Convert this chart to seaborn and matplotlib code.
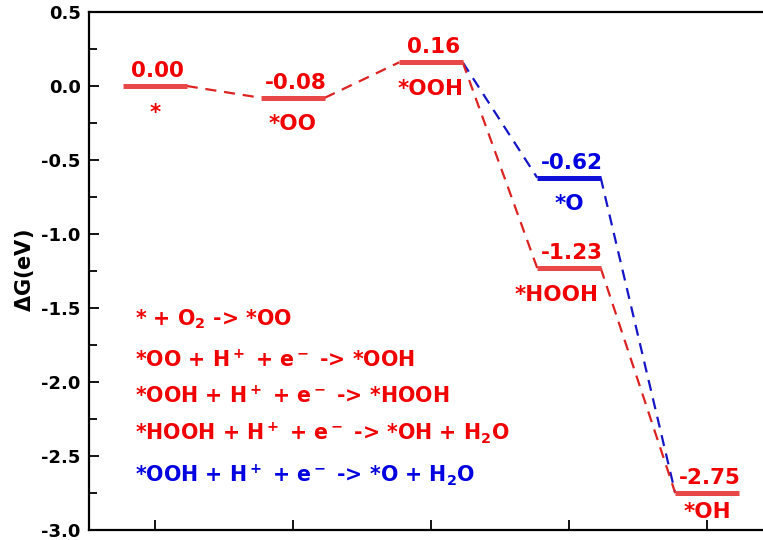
import matplotlib
matplotlib.use("Agg")
import matplotlib.pyplot as plt
import seaborn as sns
import pandas as pd
from matplotlib.ticker import MultipleLocator

# ---- data ----
red_pos = [1, 2, 3, 4, 5]
red_vals = [0.00, -0.08, 0.16, -1.23, -2.75]
red_names = ["*", "*OO", "*OOH", "*HOOH", "*OH"]
blue_pos = [3, 4, 5]
blue_vals = [0.16, -0.62, -2.75]
blue_names = ["*O"]
reactions = [
    r"* + O$_2$ -> *OO",
    r"*OO + H$^+$ + e$^-$ -> *OOH",
    r"*OOH + H$^+$ + e$^-$ -> *HOOH",
    r"*HOOH + H$^+$ + e$^-$ -> *OH + H$_2$O",
    r"*OOH + H$^+$ + e$^-$ -> *O + H$_2$O",
]
reaction_colors = ["red", "red", "red", "red", "blue"]
yticks = [0.5, 0.0, -0.5, -1.0, -1.5, -2.0, -2.5, -3.0]

sns.set_style("ticks")
plt.rcParams["font.family"] = ["DejaVu Sans"]
plt.rcParams["font.weight"] = "bold"
plt.rcParams["axes.unicode_minus"] = False
plt.rcParams["mathtext.fontset"] = "custom"
plt.rcParams["mathtext.rm"] = "DejaVu Sans:bold"
plt.rcParams["mathtext.bf"] = "DejaVu Sans:bold"
plt.rcParams["mathtext.it"] = "DejaVu Sans:bold"
plt.rcParams["mathtext.sf"] = "DejaVu Sans"
plt.rcParams["mathtext.default"] = "bf"

HW = 0.23
RED_BAR = "#E84848"
RED_TXT = "#F00000"
RED_DASH = "#DD2222"
BLUE_BAR = "#1010D8"
BLUE_TXT = "#0000E0"
BLUE_DASH = "#1515C8"
FS = 15.5

def level_df(pos, vals):
    rows = []
    for i, (p, v) in enumerate(zip(pos, vals)):
        rows.append({"seg": i, "x": p - HW, "y": v})
        rows.append({"seg": i, "x": p + HW, "y": v})
    return pd.DataFrame(rows)

def link_df(pos, vals):
    rows = []
    for i in range(len(pos) - 1):
        rows.append({"seg": i, "x": pos[i] + HW, "y": vals[i]})
        rows.append({"seg": i, "x": pos[i + 1] - HW, "y": vals[i + 1]})
    return pd.DataFrame(rows)

fig = plt.figure(figsize=(7.63, 5.40), dpi=100)
ax = fig.add_axes([89 / 763, 1 - 530 / 540, 1 - 89 / 763 + 0.02, (530 - 12) / 540])

# dashed connections
n0 = len(ax.lines)
sns.lineplot(data=link_df(blue_pos, blue_vals), x="x", y="y", units="seg",
             estimator=None, color=BLUE_DASH, lw=1.6, ax=ax, sort=False)
for ln in ax.lines[n0:]:
    ln.set_dashes([5, 3.5])
n0 = len(ax.lines)
sns.lineplot(data=link_df(red_pos, red_vals), x="x", y="y", units="seg",
             estimator=None, color=RED_DASH, lw=1.6, ax=ax, sort=False)
for ln in ax.lines[n0:]:
    ln.set_dashes([5, 3.5])

# level bars
sns.lineplot(data=level_df(red_pos, red_vals), x="x", y="y", units="seg",
             estimator=None, color=RED_BAR, lw=3.6, ax=ax, sort=False,
             solid_capstyle="butt")
sns.lineplot(data=level_df(blue_pos[1:2], blue_vals[1:2]), x="x", y="y", units="seg",
             estimator=None, color=BLUE_BAR, lw=3.6, ax=ax, sort=False,
             solid_capstyle="butt")

# value & name labels
name_offsets = {"*OH": (0, -18), "*HOOH": (-9, -23.5)}

def label(p, v, name, col):
    ax.annotate(f"{v:.2f}", (p, v), xytext=(2, 6.5), textcoords="offset points",
                ha="center", va="baseline", color=col, fontsize=FS, fontweight="bold")
    ax.annotate(name, (p, v), xytext=name_offsets.get(name, (0, -23.5)),
                textcoords="offset points",
                ha="center", va="baseline", color=col, fontsize=FS, fontweight="bold")

for p, v, n in zip(red_pos, red_vals, red_names):
    label(p, v, n, RED_TXT)
label(blue_pos[1], blue_vals[1], blue_names[0], BLUE_TXT)

# reaction text
ys = [-1.615, -1.899, -2.142, -2.392, -2.676]
for txt, c, y in zip(reactions, reaction_colors, ys):
    ax.text(0.855, y, txt, color=RED_TXT if c == "red" else BLUE_TXT,
            fontsize=14.8, fontweight="bold", ha="left", va="baseline")

ax.set_xlim(0.522, 5.406 + 0.02 * 763 / 138)
ax.set_ylim(-3.0, 0.5)
ax.set_xticks(red_pos)
ax.set_xticklabels([])
ax.set_yticks(yticks)
ax.set_yticklabels([f"{t:.1f}" for t in yticks])
ax.yaxis.set_minor_locator(MultipleLocator(0.25))
ax.tick_params(axis="both", which="major", direction="in", length=7, width=1.3,
               labelsize=13, colors="black", pad=6)
ax.tick_params(axis="y", which="minor", direction="in", length=6, width=1.3,
               colors="black")
for lab in ax.get_yticklabels():
    lab.set_fontweight("bold")
ax.set_xlabel("")
ax.set_ylabel(r"$\mathsf{\Delta}$G(eV)", fontsize=15, fontweight="bold",
              labelpad=4, color="black")
for s in ["left", "bottom", "top"]:
    ax.spines[s].set_linewidth(1.6)
    ax.spines[s].set_color("black")
ax.spines["right"].set_visible(False)

fig.savefig("out.png", dpi=100)
